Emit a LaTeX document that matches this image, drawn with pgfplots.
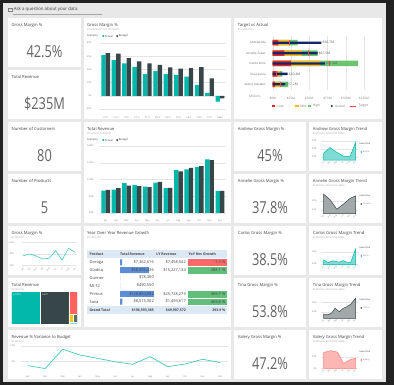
\documentclass[border=0pt]{standalone}
\usepackage{fontspec}
\setmainfont{Open Sans}
\newfontfamily\kpifont{Open Sans}
\usepackage{pgfplots}
\pgfplotsset{compat=1.18}
\definecolor{framec}{HTML}{222222}
\definecolor{bgc}{HTML}{E8E8E8}
\definecolor{pbteal}{HTML}{01B8AA}
\definecolor{pbdark}{HTML}{374649}
\definecolor{pbred}{HTML}{FD625E}
\definecolor{pbyellow}{HTML}{F2C80F}
\definecolor{pbgray}{HTML}{5F6B6D}
\definecolor{pblblue}{HTML}{8AD4EB}
\definecolor{titlec}{HTML}{404040}
\definecolor{subc}{HTML}{A0A0A0}
\definecolor{tickc}{HTML}{808080}
\definecolor{gridc}{HTML}{E4E4E4}
\definecolor{kpic}{HTML}{636363}
\definecolor{tvlow}{HTML}{E8252B}
\definecolor{tvmid}{HTML}{FBBA17}
\definecolor{tvhigh}{HTML}{6CC46E}
\definecolor{tvact}{HTML}{14266B}
\definecolor{tvtgt}{HTML}{F04A4E}
\definecolor{hdrc}{HTML}{DDE8F5}
\definecolor{cred}{HTML}{F8696B}
\definecolor{cgreen}{HTML}{63BE7B}
\definecolor{databar}{HTML}{5B8ED6}
\definecolor{annfill}{HTML}{A3A9AA}
\definecolor{valfill}{HTML}{FCB7B5}
\definecolor{tealfill}{HTML}{7FDBD4}
\pgfplotsset{
  /pgf/number format/assume math mode=true,
  pb/.style={scale only axis, anchor=south west, axis line style={draw=none},
    major tick length=0pt, tick style={draw=none},
    grid style={gridc, line width=0.3bp},
    ticklabel style={font=\fontsize{2.3}{2.6}\selectfont, text=tickc}},
  trend/.style={pb, width=37bp, xmin=-2.5, xmax=34.5, ymajorgrids,
    xtick={0,6.4,12.8,19.2,25.6,32}, xticklabels={Jan,Mar,May,Jul,Sep,Nov},
    xticklabel style={rotate=45, anchor=north east, inner sep=0.4bp, font=\fontsize{2}{2.2}\selectfont},
    yticklabel={\pgfmathprintnumber{\tick}\%}, yticklabel style={xshift=-1bp}},
}
\newcommand\myTT[3]{\node[anchor=west,inner sep=0,font=\fontsize{4.2}{5}\selectfont,text=titlec] at (#1,{385-#2}) {#3};}
\newcommand\mySB[3]{\node[anchor=west,inner sep=0,font=\fontsize{2.3}{2.8}\selectfont,text=subc] at (#1,{385-#2}) {#3};}
\newcommand\myKPI[3]{\node[inner sep=0,font=\kpifont\fontsize{16.5}{18}\selectfont,text=kpic,xscale=0.78,transform shape] at (#1,{385-#2}) {#3};}
\newcommand\myLG[3]{\node[anchor=west,inner sep=0,font=\fontsize{2.7}{3}\selectfont,text=titlec] at (#1,{385-#2}) {#3};}
\newcommand\tabB[4]{\node[anchor=#1,inner sep=0,font=\fontsize{4}{4.5}\selectfont,text=titlec] at (#2,{385-#3}) {#4};}
\newcommand\tabH[4]{\node[anchor=#1,inner sep=0,font=\bfseries\fontsize{3.5}{4}\selectfont,text=titlec] at (#2,{385-#3}) {#4};}
\newcommand\trendleg[3]{%
  \node[anchor=west,inner sep=0,font=\fontsize{2.4}{2.8}\selectfont,text=titlec] at (359.5,{385-#1-21.5}) {Executive};
  \fill[#2] (361.3,{385-#1-30}) circle (0.9);
  \node[anchor=west,inner sep=0,font=\fontsize{2.2}{2.6}\selectfont,text=tickc] at (362.8,{385-#1-30}) {#3};}
\begin{document}
\begin{tikzpicture}[x=1bp,y=1bp]
% frame and background
\fill[framec] (0,0) rectangle (394,385);
\fill[bgc] (3,3.5) rectangle (385.5,382);
% Q&A bar
\draw[tickc,line width=0.35bp] (8.6,373.6) rectangle (12.6,376.6);
\node[anchor=west,inner sep=0,font=\fontsize{4.4}{5}\selectfont,text=titlec] at (13.6,375.2) {Ask a question about your data};
\draw[tickc!70, line width=0.4bp] (13.3,371.2) -- (101.7,371.2);
% tiles
\foreach \ys in {18,70,122,174,226,278}{\fill[white] (8,{385-\ys-49}) rectangle (81,{385-\ys});}
\fill[white] (84,{385-119}) rectangle (231,{385-18});
\fill[white] (84,{385-223}) rectangle (231,{385-122});
\fill[white] (84,{385-327}) rectangle (231,{385-226});
\fill[white] (8,{385-379}) rectangle (231,{385-330});
\fill[white] (234,{385-119}) rectangle (382,{385-18});
\foreach \ys in {122,174,226,278,330}{\fill[white] (234,{385-\ys-49}) rectangle (306,{385-\ys}); \fill[white] (309,{385-\ys-49}) rectangle (382,{385-\ys});}

% column 1 KPI cards
\myTT{11.5}{25.3}{Gross Margin \%} \myKPI{44.5}{52}{42.5\%}
\myTT{11.5}{77.3}{Total Revenue} \myKPI{44.5}{104}{\$235M}
\myTT{11.5}{129.3}{Number of Customers} \myKPI{44.5}{156}{80}
\myTT{11.5}{181.3}{Number of Products} \myKPI{44.5}{208}{5}
\myTT{11.5}{233.3}{Gross Margin \%} \mySB{11.5}{238}{BY MONTH}
\myTT{11.5}{285.3}{Total Revenue} \mySB{11.5}{290}{BY REGION}
\myTT{11.5}{337.3}{Revenue \% Variance to Budget} \mySB{11.5}{342}{BY MONTH}

% column 3 KPI cards
\myTT{237.7}{129.3}{Andrew Gross Margin \%} \myKPI{270}{156}{45\%}
\myTT{237.7}{181.3}{Annelie Gross Margin \%} \myKPI{270}{208}{37.8\%}
\myTT{237.7}{233.3}{Carlos Gross Margin \%} \myKPI{270}{260}{38.5\%}
\myTT{237.7}{285.3}{Tina Gross Margin \%} \myKPI{270}{312}{53.8\%}
\myTT{237.7}{337.3}{Valery Gross Margin \%} \myKPI{270}{364}{47.2\%}

% ---------- Gross Margin % by business unit ----------
\myTT{87}{25.5}{Gross Margin \%} \mySB{87}{29.7}{BY BUSINESS UNIT, SCENARIO}
\myLG{87}{36}{Scenario} \fill[pbteal] (103.3,349) circle (1.1); \myLG{104.8}{36}{Actual}
\fill[pbdark] (117.3,349) circle (1.1); \myLG{118.8}{36}{Budget}
\begin{axis}[pb, at={(99.5bp,276bp)}, width=126.7bp, height=66bp,
  xmin=-0.6, xmax=11.6, ymin=-20, ymax=80, ytick={-20,0,20,40,60,80}, ymajorgrids,
  yticklabel={\pgfmathprintnumber{\tick}\%}, yticklabel style={xshift=-4.5bp},
  xtick={0,...,11}, xticklabels={FS-0,LO-0,ST-0,FO-0,CF-0,SM-0,HO-0,PV-0,SE-0,CN-0,CS-0,NM-0},
  xticklabel style={yshift=-4bp}, ybar=0pt, bar width=4.4bp]
\addplot[fill=pbteal, draw=none] coordinates {(0,61.7) (1,54) (2,49) (3,44) (4,33) (5,37.5) (6,33) (7,31.6) (8,29) (9,16.5) (10,4.5) (11,-9)};
\addplot[fill=pbdark, draw=none] coordinates {(0,64.7) (1,64) (2,57) (3,52) (4,49) (5,47) (6,43) (7,41) (8,42) (9,43.5) (10,26.5) (11,-4)};
\end{axis}

% ---------- Total Revenue by month ----------
\myTT{87}{129.3}{Total Revenue} \mySB{87}{134}{BY MONTH, SCENARIO}
\myLG{87}{140}{Scenario} \fill[pbteal] (103.3,245) circle (1.1); \myLG{104.8}{140}{Actual}
\fill[pbdark] (117.3,245) circle (1.1); \myLG{118.8}{140}{Budget}
\begin{axis}[pb, at={(99.5bp,172bp)}, width=126.7bp, height=67bp,
  xmin=-0.6, xmax=11.6, ymin=0, ymax=20, ytick={0,5,10,15,20}, ymajorgrids,
  yticklabel={\$\pgfmathprintnumber{\tick}M}, yticklabel style={xshift=-2.5bp},
  xtick={0,...,11}, xticklabels={Jan,Feb,Mar,Apr,May,Jun,Jul,Aug,Sep,Oct,Nov,Dec},
  xticklabel style={yshift=-3.5bp}, ybar=0pt, bar width=4.4bp]
\addplot[fill=pbteal, draw=none] coordinates {(0,6.7) (1,7.0) (2,8.9) (3,8.4) (4,7.9) (5,9.1) (6,7.4) (7,12.8) (8,13.0) (9,13.8) (10,16.0) (11,6.6)};
\addplot[fill=pbdark, draw=none] coordinates {(0,6.9) (1,7.4) (2,8.2) (3,8.0) (4,7.7) (5,9.3) (6,7.5) (7,12.4) (8,13.5) (9,14.0) (10,15.8) (11,6.6)};
\end{axis}

% ---------- Target vs Actual ----------
\myTT{237.7}{25}{Target vs Actual} \mySB{237.7}{29.5}{BY EXECUTIVE}
\begin{axis}[pb, at={(272.7bp,294.5bp)}, width=95bp, height=54bp, clip=false,
  xmin=0, xmax=130, ymin=-0.6, ymax=4.6, xmajorgrids,
  xtick={0,25,50,75,100,125}, xticklabel={\$\pgfmathprintnumber{\tick}M},
  xticklabel style={yshift=-3.5bp, font=\fontsize{3.1}{3.4}\selectfont},
  ytick={0,...,4}, yticklabels={Valery Ushakov,Tina Lassila,Carlos Grilo,Annelie Zubar,Andrew Ma},
  yticklabel style={xshift=-3.5bp, font=\fontsize{3.0}{3.3}\selectfont, text=titlec!80}]
\addplot[xbar, bar width=5.5bp, bar shift=0pt, fill=tvhigh, draw=none] coordinates {(34,4) (61.5,3) (117,2) (13.3,1) (21.5,0)};
\addplot[xbar, bar width=5.5bp, bar shift=0pt, fill=tvmid, draw=none] coordinates {(23,4) (40,3) (65,2) (10,1) (11,0)};
\addplot[xbar, bar width=5.5bp, bar shift=0pt, fill=tvlow, draw=none] coordinates {(7.8,4) (16,3) (25,2) (6.4,1) (3,0)};
\addplot[xbar, bar width=2.4bp, bar shift=0pt, fill=tvact, draw=none,
  nodes near coords, point meta=explicit symbolic,
  every node near coord/.append style={anchor=west, inner sep=1bp, font=\fontsize{3.3}{3.6}\selectfont, text=titlec!85}]
  coordinates {(66.7,4) [\$66.7M] (61.5,3) [\$61.5M] (71.4,2) [\$71.4M] (20.4,1) [\$20.4M] (17.2,0) [\$17.2M]};
\addplot[only marks, mark=|, mark size=2.7bp, mark options={tvtgt, line width=0.7bp}] coordinates {(22.5,4) (49,3) (77.5,2) (4.6,1) (10,0)};
\end{axis}
\node[anchor=center,inner sep=0,font=\fontsize{3.1}{3.4}\selectfont,text=tickc] at (255,{385-96.7}) {Millions};
\fill[tvlow] (271.9,277.6) rectangle (275.3,280.4); \node[anchor=west,inner sep=0,font=\fontsize{3.3}{3.6}\selectfont,text=tickc] at (277.2,279) {Low};
\fill[tvmid] (295.2,277.6) rectangle (298.6,280.4); \node[anchor=west,inner sep=0,font=\fontsize{3.3}{3.6}\selectfont,text=tickc] at (300.2,279) {Mid};
\fill[tvhigh] (307.5,277.6) rectangle (310.9,280.4); \node[anchor=west,inner sep=0,font=\fontsize{3.3}{3.6}\selectfont,text=tickc] at (312.6,279) {High};
\fill[tvact] (331.7,279) circle (1.2); \node[anchor=west,inner sep=0,font=\fontsize{3.3}{3.6}\selectfont,text=tickc] at (335,279) {Actual};
\draw[tvtgt, line width=0.7bp] (350,279) -- (355.7,279); \node[anchor=west,inner sep=0,font=\fontsize{3.3}{3.6}\selectfont,text=tickc] at (358.3,279) {Target};

% ---------- Trend charts ----------
\myTT{312.7}{129.3}{Andrew Gross Margin Trend} \mySB{312.7}{134}{BY MONTH, EXECUTIVE NAME}
\begin{axis}[trend, at={(321bp,224.8bp)}, height=20.8bp, ymin=26, ymax=52, ytick={30,40,50}]
\addplot[fill=tealfill, draw=pbteal, line width=0.5bp] coordinates {(0,34.6) (6.5,41.8) (13.2,35.9) (19.8,31.2) (26.5,30.4) (32,47.9)} \closedcycle;
\end{axis}
\myTT{312.7}{181.3}{Annelie Gross Margin Trend} \mySB{312.7}{186}{BY MONTH, EXECUTIVE NAME}
\begin{axis}[trend, at={(321bp,171.4bp)}, height=21.6bp, ymin=23, ymax=35, ytick={25,30}]
\addplot[fill=annfill, draw=pbdark, line width=0.5bp] coordinates {(0,33.9) (6.7,30.6) (13.3,25.4) (20,28.3) (26.7,31.5) (32,32.8)} \closedcycle;
\end{axis}
\myTT{312.7}{233.3}{Carlos Gross Margin Trend} \mySB{312.7}{238}{BY MONTH, EXECUTIVE NAME}
\begin{axis}[trend, at={(321bp,120.4bp)}, height=16.6bp, ymin=19, ymax=46, ytick={20,40}]
\addplot[fill=tealfill, draw=pbteal, line width=0.5bp] coordinates {(0,26.6) (4.8,22.3) (9.8,25) (15.8,22.9) (19.2,25.5) (23.2,23) (27.2,22.3) (32,44)} \closedcycle;
\end{axis}
\myTT{312.7}{285.3}{Tina Gross Margin Trend} \mySB{312.7}{290}{BY MONTH, EXECUTIVE NAME}
\begin{axis}[trend, at={(321bp,66.7bp)}, height=21.6bp, ymin=43, ymax=66, ytick={50,60}]
\addplot[fill=annfill, draw=pbdark, line width=0.5bp] coordinates {(0,47.5) (4.8,46.8) (8.2,48.6) (11.5,53.6) (15.8,50) (19.8,53.6) (23.2,55.3) (27.2,57.9) (32,64.3)} \closedcycle;
\end{axis}
\myTT{312.7}{337.3}{Valery Gross Margin Trend} \mySB{312.7}{342}{BY MONTH, EXECUTIVE NAME}
\begin{axis}[trend, at={(321bp,16.7bp)}, height=19.7bp, ymin=0, ymax=85, ytick={0,50}]
\addplot[fill=valfill, draw=pbred!80, line width=0.5bp] coordinates {(0,68) (7,76) (14,70) (20,21) (27,38) (32,43)} \closedcycle;
\end{axis}
% trend legends
\trendleg{122}{pbteal}{Andre\ldots}
\trendleg{174}{pbdark}{Annelie\ldots}
\trendleg{226}{pbteal}{Carlo\ldots}
\trendleg{278}{pbdark}{Tina L\ldots}
\trendleg{330}{pbred}{Valery\ldots}

% ---------- Gross Margin % by month ----------
\begin{axis}[pb, at={(22bp,118.35bp)}, width=54.3bp, height=25.3bp,
  xmin=-0.2, xmax=8.2, ymin=18, ymax=62, ytick={20,40,60}, ymajorgrids,
  yticklabel={\pgfmathprintnumber{\tick}\%}, yticklabel style={xshift=-4.3bp},
  xtick={0,...,8}, xticklabels={Jan,Feb,Mar,Apr,May,Jun,Jul,Aug,Sep},
  xticklabel style={rotate=45, anchor=north east, inner sep=0.4bp, font=\fontsize{2}{2.2}\selectfont}]
\addplot[pbteal!75, line width=0.6bp] coordinates {(0,37) (1,40) (2,36.5) (3,31.3) (4,32.5) (5,45.7) (6,29.6) (7,49.9) (8,43)};
\end{axis}

% ---------- Treemap ----------
\begin{axis}[pb, at={(11.7bp,61bp)}, width=66bp, height=32.3bp, xmin=0, xmax=66, ymin=0, ymax=32.3, xtick=\empty, ytick=\empty]
\addplot[fill=pbteal, draw=white, line width=0.5bp] coordinates {(0,0) (29,0) (29,32.3) (0,32.3) (0,0)};
\addplot[fill=pbdark, draw=white, line width=0.5bp] coordinates {(29,0) (57.3,0) (57.3,32.3) (29,32.3) (29,0)};
\addplot[fill=pbred, draw=white, line width=0.5bp] coordinates {(57.3,10) (66,10) (66,32.3) (57.3,32.3) (57.3,10)};
\addplot[fill=pbyellow, draw=white, line width=0.5bp] coordinates {(57.3,1.3) (62,1.3) (62,10) (57.3,10) (57.3,1.3)};
\addplot[fill=pbgray, draw=white, line width=0.5bp] coordinates {(62,1.3) (66,1.3) (66,10) (62,10) (62,1.3)};
\addplot[fill=pblblue, draw=white, line width=0.5bp] coordinates {(57.3,0) (66,0) (66,1.3) (57.3,1.3) (57.3,0)};
\end{axis}
\node[anchor=west,inner sep=0,font=\fontsize{2.2}{2.5}\selectfont,text=white] at (13.2,{385-294.5}) {NORTH};
\node[anchor=west,inner sep=0,font=\fontsize{2.2}{2.5}\selectfont,text=white] at (42.5,{385-294.5}) {EAST};

% ---------- Revenue % Variance to Budget ----------
\begin{axis}[pb, at={(20.7bp,15.5bp)}, width=207.3bp, height=26.7bp,
  xmin=-0.4, xmax=11.45, ymin=-5, ymax=12, ytick={0,10}, ymajorgrids,
  yticklabel={\pgfmathprintnumber{\tick}\%}, yticklabel style={xshift=-2.2bp},
  xtick={0,...,11}, xticklabels={Jan,Feb,Mar,Apr,May,Jun,Jul,Aug,Sep,Oct,Nov,Dec},
  xticklabel style={yshift=-2.8bp}]
\addplot[pbteal!75, line width=0.7bp] coordinates {(0,-2.5) (1,-4.4) (2,7.9) (3,4.2) (4,2.1) (5,-0.1) (6,-1.7) (7,3.2) (8,-3.2) (9,-1.5) (10,1.5) (11,-0.6)};
\end{axis}

% ---------- YoY table ----------
\myTT{87}{233.3}{Year Over Year Revenue Growth} \mySB{87}{238}{BY PRODUCT}
\fill[hdrc] (87,126.7) rectangle (227,134.5);
\fill[hdrc] (87,71.3) rectangle (227,78.7);
\fill[cred, draw=white, line width=0.3bp] (187.5,119) rectangle (226.8,126.7);
\fill[cgreen, draw=white, line width=0.3bp] (187.5,111.3) rectangle (226.8,119);
\fill[cgreen, draw=white, line width=0.3bp] (187.5,87.3) rectangle (226.8,95);
\fill[cgreen, draw=white, line width=0.3bp] (187.5,79.7) rectangle (226.8,87.3);
\begin{axis}[pb, at={(120bp,79.35bp)}, width=36bp, height=47.3bp, xmin=0, xmax=128, ymin=-0.5, ymax=5.5, y dir=reverse, xtick=\empty, ytick=\empty]
\addplot[xbar, bar width=6bp, bar shift=0pt, fill=databar, draw=none] coordinates {(7.36,0) (103,1) (0.08,2) (0.49,3) (120.85,4) (8.52,5)};
\end{axis}
\tabH{west}{89.5}{254.3}{Product} \tabH{west}{120}{254.3}{Total Revenue} \tabH{west}{156.3}{254.3}{LY Revenue} \tabH{west}{188.5}{254.3}{YoY Rev Growth}
\tabB{west}{89.5}{262.3}{Doroga} \tabB{east}{154}{262.3}{\$7,362,616} \tabB{east}{186}{262.3}{\$7,458,542} \tabB{east}{225.5}{262.3}{-1.3 \%}
\tabB{west}{89.5}{270}{Gladius} \tabB{east}{154}{270}{\$58,096,436} \tabB{east}{186}{270}{\$15,227,134} \tabB{east}{225.5}{270}{288.1 \%}
\tabB{west}{89.5}{277.7}{Gunner} \tabB{east}{154}{277.7}{\$78,300}
\tabB{west}{89.5}{285.7}{MI-T2} \tabB{east}{154}{285.7}{\$490,550}
\tabB{west}{89.5}{294}{Primus} \tabB{east}{154}{294}{\$120,854,582} \tabB{east}{186}{294}{\$25,728,279} \tabB{east}{225.5}{294}{369.7 \%}
\tabB{west}{89.5}{301.7}{Sova} \tabB{east}{154}{301.7}{\$8,515,302} \tabB{east}{186}{301.7}{\$1,493,617} \tabB{east}{225.5}{301.7}{469.8 \%}
\tabH{west}{89.5}{310}{Grand Total} \tabH{east}{154}{310}{\$196,593,385} \tabH{east}{186}{310}{\$49,907,572} \tabH{east}{225.5}{310}{293.9 \%}

\pgfresetboundingbox
\useasboundingbox (0,0) rectangle (394,385);
\end{tikzpicture}
\end{document}
